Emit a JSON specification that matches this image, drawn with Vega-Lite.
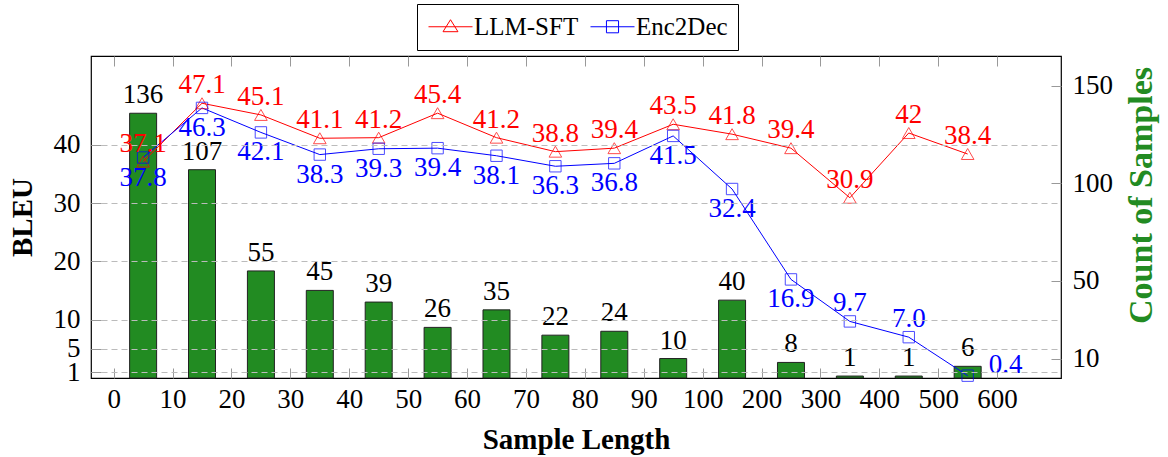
{
  "$schema": "https://vega.github.io/schema/vega-lite/v6.json",
  "width": 970,
  "height": 322,
  "autosize": {"type": "none"},
  "padding": {"left": 91, "top": 56, "right": 107, "bottom": 79},
  "background": "white",
  "data": {
    "values": [
      {"bin": "0-10", "mid": 0.5, "count": 136, "LLM-SFT": 37.1, "Enc2Dec": 37.8},
      {"bin": "10-20", "mid": 1.5, "count": 107, "LLM-SFT": 47.1, "Enc2Dec": 46.3},
      {"bin": "20-30", "mid": 2.5, "count": 55, "LLM-SFT": 45.1, "Enc2Dec": 42.1},
      {"bin": "30-40", "mid": 3.5, "count": 45, "LLM-SFT": 41.1, "Enc2Dec": 38.3},
      {"bin": "40-50", "mid": 4.5, "count": 39, "LLM-SFT": 41.2, "Enc2Dec": 39.3},
      {"bin": "50-60", "mid": 5.5, "count": 26, "LLM-SFT": 45.4, "Enc2Dec": 39.4},
      {"bin": "60-70", "mid": 6.5, "count": 35, "LLM-SFT": 41.2, "Enc2Dec": 38.1},
      {"bin": "70-80", "mid": 7.5, "count": 22, "LLM-SFT": 38.8, "Enc2Dec": 36.3},
      {"bin": "80-90", "mid": 8.5, "count": 24, "LLM-SFT": 39.4, "Enc2Dec": 36.8},
      {"bin": "90-100", "mid": 9.5, "count": 10, "LLM-SFT": 43.5, "Enc2Dec": 41.5},
      {"bin": "100-200", "mid": 10.5, "count": 40, "LLM-SFT": 41.8, "Enc2Dec": 32.4},
      {"bin": "200-300", "mid": 11.5, "count": 8, "LLM-SFT": 39.4, "Enc2Dec": 16.9},
      {"bin": "300-400", "mid": 12.5, "count": 1, "LLM-SFT": 30.9, "Enc2Dec": 9.7},
      {"bin": "400-500", "mid": 13.5, "count": 1, "LLM-SFT": 42, "Enc2Dec": 7.0},
      {"bin": "500-600", "mid": 14.5, "count": 6, "LLM-SFT": 38.4, "Enc2Dec": 0.4}
    ]
  },
  "config": {
    "view": {"stroke": "black", "strokeWidth": 1.2},
    "axis": {
      "labelFont": "Liberation Serif",
      "labelFontSize": 27,
      "labelColor": "black",
      "titleFont": "Liberation Serif",
      "titleFontSize": 29,
      "titleFontWeight": "bold",
      "titleColor": "black",
      "domain": false,
      "tickColor": "#999999",
      "tickSize": -10,
      "tickWidth": 1,
      "grid": false,
      "labelFlush": false,
      "labelOverlap": false
    },
    "text": {"font": "Liberation Serif", "fontSize": 27}
  },
  "layer": [
    {
      "encoding": {
        "x": {
          "field": "mid",
          "type": "quantitative",
          "scale": {"domain": [-0.3, 16], "nice": false, "zero": false},
          "axis": {
            "orient": "bottom",
            "values": [0, 1, 2, 3, 4, 5, 6, 7, 8, 9, 10, 11, 12, 13, 14, 15],
            "labelExpr": "datum.value <= 10 ? format(datum.value * 10, 'd') : format((datum.value - 9) * 100, 'd')",
            "labelPadding": 18,
            "title": "Sample Length",
            "titlePadding": 13
          }
        }
      },
      "layer": [
        {
          "mark": {"type": "bar", "size": 27, "fill": "#228B22", "stroke": "#222222", "strokeWidth": 1},
          "encoding": {
            "y": {
              "field": "count",
              "type": "quantitative",
              "title": "Count of Samples",
              "scale": {"domain": [0, 165.4], "nice": false},
              "axis": {
                "orient": "right",
                "values": [10, 50, 100, 150],
                "labelPadding": 21,
                "titleColor": "#228B22",
                "titleFontSize": 34,
                "titleAngle": 270,
                "titleBaseline": "top",
                "titlePadding": 12,
                "titleY": 139
              }
            }
          }
        },
        {
          "mark": {"type": "text", "baseline": "alphabetic", "dy": -10, "color": "black"},
          "encoding": {
            "y": {"field": "count", "type": "quantitative", "title": "Count of Samples", "scale": {"domain": [0, 165.4], "nice": false}},
            "text": {"field": "count", "type": "quantitative"}
          }
        }
      ]
    },
    {
      "encoding": {
        "x": {
          "field": "mid",
          "type": "quantitative",
          "scale": {"domain": [-0.3, 16], "nice": false, "zero": false},
          "axis": {
            "orient": "top",
            "values": [0, 1, 2, 3, 4, 5, 6, 7, 8, 9, 10, 11, 12, 13, 14, 15],
            "labels": false,
            "title": null
          }
        }
      },
      "layer": [
        {
          "transform": [{"fold": ["LLM-SFT", "Enc2Dec"], "as": ["series", "bleu"]}],
          "mark": {"type": "line", "strokeWidth": 1},
          "encoding": {
            "y": {
              "field": "bleu",
              "type": "quantitative",
              "title": "BLEU",
              "scale": {"domain": [0, 55.2], "nice": false, "zero": false},
              "axis": {
                "orient": "left",
                "values": [1, 5, 10, 20, 30, 40],
                "grid": true,
                "gridDash": [6, 4],
                "gridColor": "#bbbbbb",
                "gridWidth": 1,
                "labelPadding": 21,
                "titlePadding": 16,
                "zindex": 1
              }
            },
            "color": {
              "field": "series",
              "type": "nominal",
              "scale": {"domain": ["LLM-SFT", "Enc2Dec"], "range": ["red", "blue"]},
              "legend": {
                "orient": "none",
                "legendX": 326,
                "legendY": -52,
                "direction": "horizontal",
                "title": null,
                "labelFont": "Liberation Serif",
                "labelFontSize": 25,
                "labelColor": "black",
                "labelLimit": 300,
                "strokeColor": "black",
                "fillColor": "white",
                "padding": 10,
                "symbolSize": 484,
                "symbolOffset": 11,
                "labelOffset": 11,
                "columnPadding": 9,
                "symbolStrokeWidth": 1,
                "encode": {
                  "symbols": {
                    "update": {
                      "shape": {"signal": "datum.value === 'LLM-SFT' ? 'M-2,0H2M0,-0.64L0.68,0.45L-0.68,0.45Z' : 'M-2,0H2M-0.55,-0.55H0.55V0.55H-0.55Z'"},
                      "fill": {"value": "transparent"}
                    }
                  }
                }
              }
            }
          }
        },
        {
          "mark": {"type": "point", "shape": "triangle-up", "filled": false, "color": "red", "size": 160, "strokeWidth": 1},
          "encoding": {
            "y": {"field": "LLM-SFT", "type": "quantitative", "title": "BLEU", "scale": {"domain": [0, 55.2], "nice": false, "zero": false}}
          }
        },
        {
          "mark": {"type": "point", "shape": "square", "filled": false, "color": "blue", "size": 130, "strokeWidth": 1},
          "encoding": {
            "y": {"field": "Enc2Dec", "type": "quantitative", "title": "BLEU", "scale": {"domain": [0, 55.2], "nice": false, "zero": false}}
          }
        },
        {
          "mark": {"type": "text", "baseline": "alphabetic", "dy": -10, "color": "red"},
          "encoding": {
            "y": {"field": "LLM-SFT", "type": "quantitative", "title": "BLEU", "scale": {"domain": [0, 55.2], "nice": false, "zero": false}},
            "text": {"field": "LLM-SFT", "type": "quantitative"}
          }
        },
        {
          "transform": [{"filter": {"not": {"field": "bin", "oneOf": ["300-400", "400-500", "500-600"]}}}],
          "mark": {"type": "text", "baseline": "alphabetic", "dy": 28, "color": "blue"},
          "encoding": {
            "y": {"field": "Enc2Dec", "type": "quantitative", "title": "BLEU", "scale": {"domain": [0, 55.2], "nice": false, "zero": false}},
            "text": {"field": "Enc2Dec", "type": "quantitative", "format": ".1f"}
          }
        },
        {
          "transform": [{"filter": {"field": "bin", "oneOf": ["300-400", "400-500"]}}],
          "mark": {"type": "text", "baseline": "alphabetic", "dy": -10, "color": "blue"},
          "encoding": {
            "y": {"field": "Enc2Dec", "type": "quantitative", "title": "BLEU", "scale": {"domain": [0, 55.2], "nice": false, "zero": false}},
            "text": {"field": "Enc2Dec", "type": "quantitative", "format": ".1f"}
          }
        },
        {
          "transform": [{"filter": {"field": "bin", "equal": "500-600"}}],
          "mark": {"type": "text", "baseline": "alphabetic", "align": "left", "dx": 21, "dy": -3, "color": "blue"},
          "encoding": {
            "y": {"field": "Enc2Dec", "type": "quantitative", "title": "BLEU", "scale": {"domain": [0, 55.2], "nice": false, "zero": false}},
            "text": {"field": "Enc2Dec", "type": "quantitative", "format": ".1f"}
          }
        }
      ]
    }
  ],
  "resolve": {"scale": {"y": "independent"}, "axis": {"x": "independent"}}
}
